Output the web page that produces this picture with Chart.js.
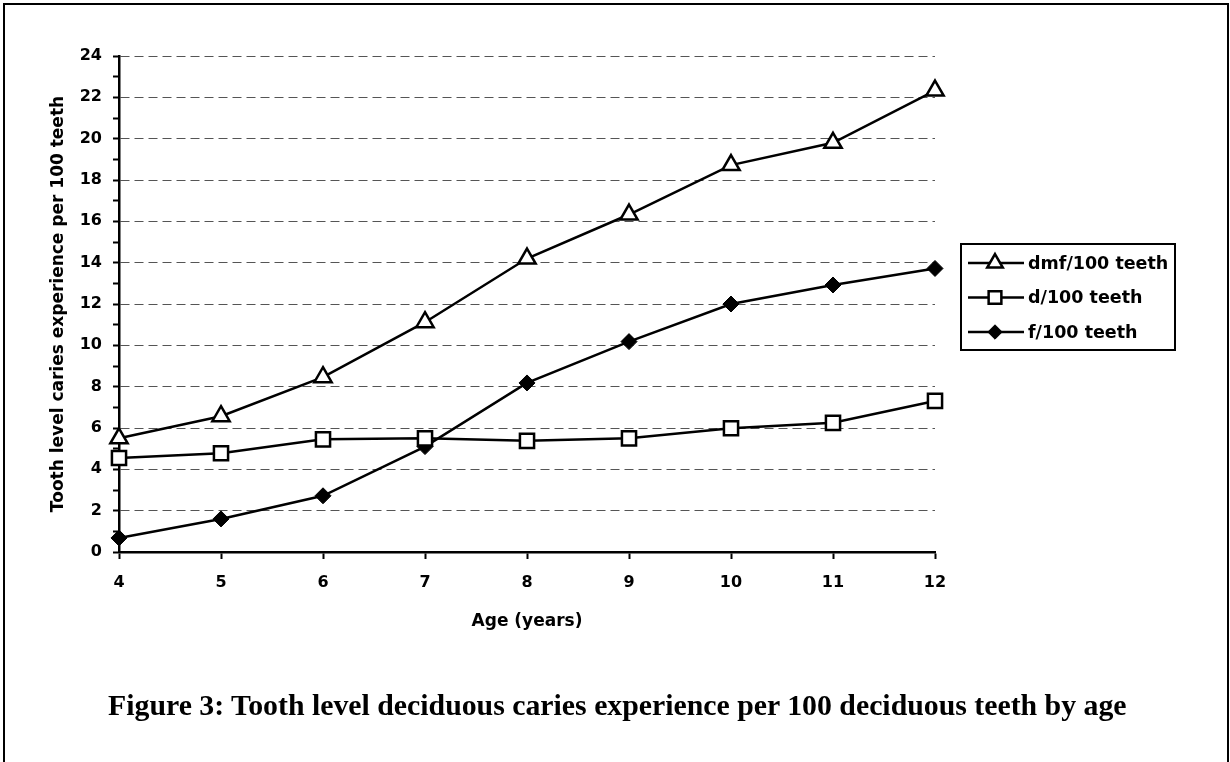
<!DOCTYPE html>
<html>
<head>
<meta charset="utf-8">
<script src="https://cdn.jsdelivr.net/npm/chart.js@4.4.1/dist/chart.umd.min.js"></script>
<style>
  html, body { margin: 0; padding: 0; background: #fff; width: 1230px; height: 762px; overflow: hidden; }
  #frame { position: absolute; left: 3px; top: 3px; width: 1226px; height: 780px; border: 2px solid #000; box-sizing: border-box; }
  #wrap { position: absolute; left: 0; top: 0; width: 1230px; height: 762px; }
  #caption { position: absolute; left: 108px; top: 690px; font: bold 29.8px "Liberation Serif", "DejaVu Serif", serif; line-height: 30px; color: #000; white-space: nowrap; }
</style>
</head>
<body>
<div id="frame"></div>
<div id="wrap"><canvas id="c" width="1230" height="762"></canvas></div>
<div id="caption">Figure 3: Tooth level deciduous caries experience per 100 deciduous teeth by age</div>
<script>
const ages = ['4', '5', '6', '7', '8', '9', '10', '11', '12'];
const dmfPer100 = [5.5, 6.57, 8.46, 11.12, 14.2, 16.33, 18.72, 19.8, 22.33];
const dPer100 = [4.55, 4.78, 5.45, 5.5, 5.38, 5.5, 5.99, 6.25, 7.31];
const fPer100 = [0.68, 1.6, 2.72, 5.1, 8.18, 10.18, 12.0, 12.92, 13.72];
const seriesNames = ['dmf/100 teeth', 'd/100 teeth', 'f/100 teeth'];
const yTitle = 'Tooth level caries experience per 100 teeth';
const xTitle = 'Age (years)';

Chart.defaults.font.family = '"DejaVu Sans", "Liberation Sans", Arial, sans-serif';
Chart.defaults.font.weight = 'bold';
Chart.defaults.color = '#000';

const legendBoxPlugin = {
  id: 'legendBox',
  afterDatasetsDraw(chart) {
    const ctx = chart.ctx;
    const area = chart.chartArea;
    const left = area.right + 26;
    const top = (area.top + area.bottom) / 2 - 60;
    const w = 214, h = 106;
    ctx.save();
    ctx.fillStyle = '#fff';
    ctx.fillRect(left, top, w, h);
    ctx.lineWidth = 2;
    ctx.strokeStyle = '#000';
    ctx.strokeRect(left, top, w, h);
    ctx.font = 'bold 17.5px "DejaVu Sans", "Liberation Sans", Arial, sans-serif';
    ctx.textBaseline = 'middle';
    chart.data.datasets.forEach((ds, i) => {
      const y = top + 19 + i * 34.5;
      ctx.beginPath();
      ctx.lineWidth = 2.5;
      ctx.strokeStyle = '#000';
      ctx.moveTo(left + 7, y);
      ctx.lineTo(left + 63, y);
      ctx.stroke();
      ctx.fillStyle = ds.pointBackgroundColor;
      ctx.strokeStyle = ds.pointBorderColor;
      ctx.lineWidth = ds.pointBorderWidth;
      Chart.helpers.drawPoint(ctx, {pointStyle: ds.pointStyle, radius: ds.pointRadius * 0.9, rotation: 0, borderWidth: ds.pointBorderWidth}, left + 34, y);
      ctx.fillStyle = '#000';
      ctx.fillText(ds.label, left + 67, y + 1);
    });
    ctx.restore();
  }
};

new Chart(document.getElementById('c'), {
  type: 'line',
  data: {
    labels: ages,
    datasets: [
      { label: seriesNames[0], data: dmfPer100, borderColor: '#000', borderWidth: 2.5, pointStyle: 'triangle', pointRadius: 10, pointBackgroundColor: '#fff', pointBorderColor: '#000', pointBorderWidth: 2.5, tension: 0, clip: false },
      { label: seriesNames[1], data: dPer100, borderColor: '#000', borderWidth: 2.5, pointStyle: 'rect', pointRadius: 10, pointBackgroundColor: '#fff', pointBorderColor: '#000', pointBorderWidth: 2.5, tension: 0, clip: false },
      { label: seriesNames[2], data: fPer100, borderColor: '#000', borderWidth: 2.5, pointStyle: 'rectRot', pointRadius: 8, pointBackgroundColor: '#000', pointBorderColor: '#000', pointBorderWidth: 1, tension: 0, clip: false }
    ]
  },
  options: {
    responsive: false,
    animation: false,
    devicePixelRatio: 1,
    layout: { padding: { left: 48, top: 56, right: 295, bottom: 128 } },
    plugins: { legend: { display: false }, tooltip: { enabled: false }, title: { display: false } },
    scales: {
      x: {
        type: 'category',
        offset: false,
        afterFit(scale) { scale.height = 82; },
        grid: { drawOnChartArea: false, drawTicks: true, tickLength: 7, tickColor: '#000', tickWidth: 2 },
        border: { display: true, color: '#000', width: 2.5 },
        ticks: { font: { size: 16, weight: 'bold' }, padding: 14, maxRotation: 0, autoSkip: false },
        title: { display: true, text: xTitle, font: { size: 17, weight: 'bold' }, padding: { top: 0, bottom: 2 } }
      },
      y: {
        min: 0,
        max: 24,
        afterFit(scale) { scale.width = 71; },
        grid: {
          color: (c) => (c.tick && c.tick.value % 2 !== 0) ? 'rgba(0,0,0,0)' : '#555',
          lineWidth: 1,
          drawTicks: true,
          tickLength: 6,
          tickColor: '#000',
          tickWidth: 2
        },
        border: { display: true, color: '#000', width: 2.5, dash: [9, 5] },
        ticks: {
          stepSize: 1,
          autoSkip: false,
          padding: 11,
          font: { size: 16, weight: 'bold' },
          callback: (v) => (v % 2 === 0 ? String(v) : '')
        },
        title: { display: true, text: yTitle, font: { size: 17, weight: 'bold' }, padding: { top: 0, bottom: 0 } }
      }
    }
  },
  plugins: [legendBoxPlugin]
});
</script>
</body>
</html>
